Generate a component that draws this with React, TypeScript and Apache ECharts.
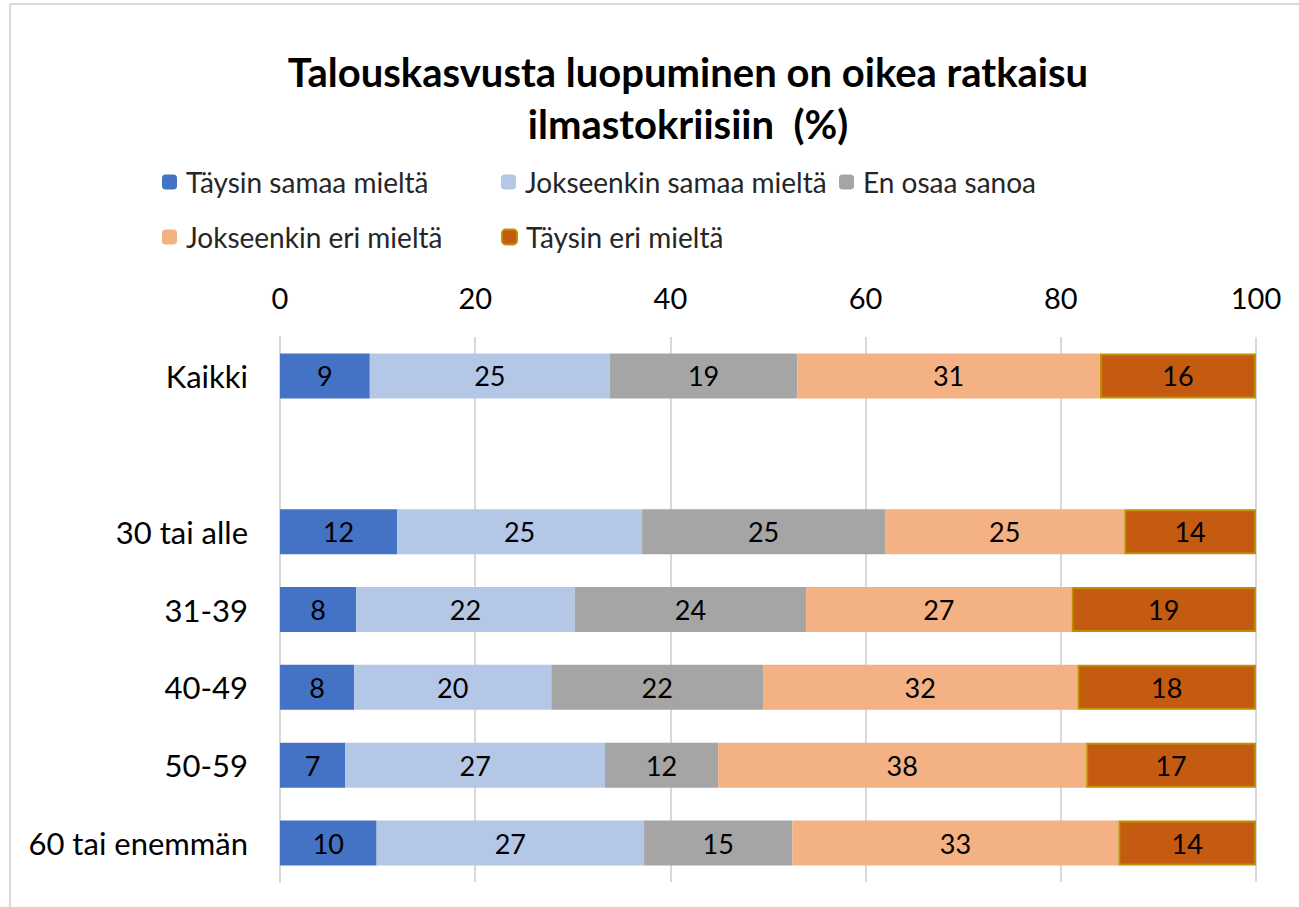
import React, { useEffect, useRef } from "react";
import * as echarts from "echarts";

const categories = ["Kaikki", "", "30 tai alle", "31-39", "40-49", "50-59", "60 tai enemmän"];
const seriesNames = [
  "Täysin samaa mieltä",
  "Jokseenkin samaa mieltä",
  "En osaa sanoa",
  "Jokseenkin eri mieltä",
  "Täysin eri mieltä",
];
const taysinSamaa = [9.2, null, 12.0, 7.8, 7.6, 6.7, 9.9];
const jokseenkinSamaa = [24.6, null, 25.1, 22.4, 20.2, 26.6, 27.4];
const enOsaa = [19.2, null, 24.9, 23.7, 21.7, 11.6, 15.2];
const jokseenkinEri = [31.0, null, 24.5, 27.2, 32.2, 37.7, 33.4];
const taysinEri = [16.0, null, 13.5, 18.9, 18.3, 17.4, 14.1];
const xTicks = [0, 20, 40, 60, 80, 100];

const colors = ["#4472C4", "#B4C7E7", "#A5A5A5", "#F4B183", "#C55A11"];
const FONT = "Lato";

export default function App() {
  const ref = useRef<HTMLDivElement>(null);
  useEffect(() => {
    if (!ref.current) return;
    const chart = echarts.init(ref.current, null, { renderer: "svg" });
    const values = [taysinSamaa, jokseenkinSamaa, enOsaa, jokseenkinEri, taysinEri];
    const series = seriesNames.map((name, i) => ({
      name,
      type: "bar",
      stack: "total",
      barWidth: 45,
      data: values[i].map((v) => (v === null ? "-" : v)),
      itemStyle:
        i === 4
          ? { color: colors[i], borderColor: "#BF9000", borderWidth: 2 }
          : { color: colors[i] },
      label: {
        show: true,
        position: "inside",
        color: "#000",
        fontFamily: FONT,
        fontSize: 27,
        formatter: (p: any) => String(Math.round(p.value)),
      },
      emphasis: { disabled: true },
    }));
    const legendPos = [
      { left: 162, top: 168 },
      { left: 501, top: 168 },
      { left: 839, top: 168 },
      { left: 162, top: 223 },
      { left: 501, top: 223 },
    ];
    const legend = seriesNames.map((n, i) => ({
      data: [n],
      left: legendPos[i].left,
      top: legendPos[i].top,
      padding: 0,
      itemWidth: 15,
      itemHeight: 15,
      itemGap: 0,
      selectedMode: false,
      textStyle: { fontFamily: FONT, fontSize: 28, color: "#262626", padding: [0, 0, 0, 4] },
    }));
    chart.setOption({
      animation: false,
      backgroundColor: "#fff",
      legend,
      grid: { left: 280, right: 43, top: 337, bottom: 25, containLabel: false },
      xAxis: {
        type: "value",
        position: "top",
        min: 0,
        max: 100,
        interval: 20,
        axisLine: { show: false },
        axisTick: { show: false },
        splitLine: { show: true, lineStyle: { color: "#D9D9D9", width: 2 } },
        axisLabel: {
          fontFamily: FONT,
          fontSize: 29,
          color: "#000",
          margin: 25,
          formatter: (v: number) => (xTicks.includes(v) ? String(v) : ""),
        },
      },
      yAxis: {
        type: "category",
        inverse: true,
        data: categories,
        axisLine: { show: true, lineStyle: { color: "#D9D9D9", width: 2 } },
        axisTick: { show: false },
        axisLabel: { fontFamily: FONT, fontSize: 31, color: "#000", margin: 32 },
      },
      series,
      graphic: [
        {
          type: "line",
          shape: { x1: 10, y1: 4, x2: 1299, y2: 4 },
          style: { stroke: "#D9D9D9", lineWidth: 2 },
          silent: true,
        },
        {
          type: "line",
          shape: { x1: 10, y1: 4, x2: 10, y2: 907 },
          style: { stroke: "#D9D9D9", lineWidth: 2 },
          silent: true,
        },
        {
          type: "text",
          x: 688,
          y: 46,
          style: {
            text: "Talouskasvusta luopuminen on oikea ratkaisu\nilmastokriisiin  (%)",
            fontFamily: FONT,
            fontWeight: "bold",
            fontSize: 40,
            lineHeight: 52,
            fill: "#000",
            align: "center",
            verticalAlign: "top",
          },
          silent: true,
        },
      ],
    });
    return () => chart.dispose();
  }, []);
  return (
    <div
      ref={ref}
      style={{ position: "fixed", left: 0, top: 0, width: 1299, height: 907 }}
    />
  );
}
